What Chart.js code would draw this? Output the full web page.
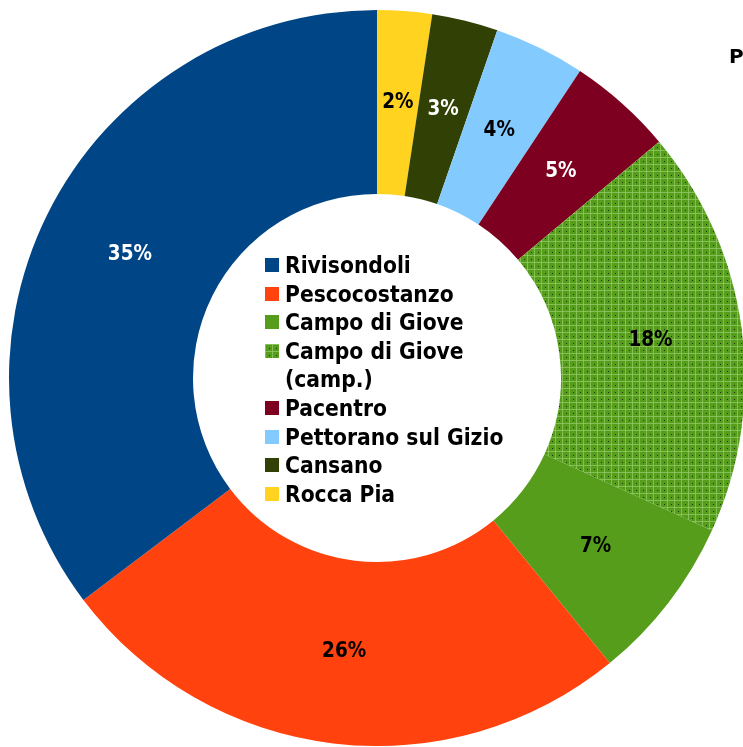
<!DOCTYPE html>
<html>
<head>
<meta charset="utf-8">
<script src="https://cdn.jsdelivr.net/npm/chart.js@4"></script>
<style>
  html, body { margin: 0; padding: 0; background: #fff; overflow: hidden; width: 743px; height: 747px; }
  #wrap { position: absolute; left: 9px; top: 10px; width: 736px; height: 736px; }
  #legenda { position: absolute; left: 265px; top: 251px; font-family: "DejaVu Sans Condensed", "DejaVu Sans", sans-serif; font-weight: bold; font-size: 22.6px; line-height: 28.6px; color: #000; }
  .voce { display: flex; align-items: flex-start; }
  .quadro { width: 14px; height: 14px; margin-top: 7px; margin-right: 6px; flex: none; }
  .testo { width: 225px; }
  #titolo { position: absolute; left: 729px; top: 44px; font: bold 20px "DejaVu Sans", sans-serif; color: #000; }
</style>
</head>
<body>
<div id="wrap"><canvas id="grafico"></canvas></div>
<div id="legenda"></div>
<div id="titolo">P</div>
<script>
// dati (ordine della legenda)
const comuni = ["Rivisondoli", "Pescocostanzo", "Campo di Giove", "Campo di Giove (camp.)", "Pacentro", "Pettorano sul Gizio", "Cansano", "Rocca Pia"];
const quote = [35.3, 25.6, 7.3, 17.9, 4.6, 4.0, 2.9, 2.4];
const colori = ["#004586", "#ff420e", "#579d1c", "#579d1c", "#7e0021", "#83caff", "#314004", "#ffd320"];
const coloriEtichette = ["#fff", "#000", "#000", "#000", "#fff", "#000", "#fff", "#000"];
const tratteggiato = [false, false, false, true, false, false, false, false];

document.addEventListener("DOMContentLoaded", () => {
  // motivo a griglia con puntini per "camp."
  const pc = document.createElement("canvas");
  pc.width = 7; pc.height = 7;
  const p = pc.getContext("2d");
  p.fillStyle = "#579d1c";
  p.fillRect(0, 0, 7, 7);
  p.fillStyle = "rgba(150, 205, 110, 0.7)";
  p.fillRect(0, 0, 7, 1);
  p.fillRect(0, 0, 1, 7);
  p.fillStyle = "#1c3306";
  p.fillRect(4, 4, 1, 1);
  const motivo = document.getElementById("grafico").getContext("2d").createPattern(pc, "repeat");

  const riempimenti = colori.map((c, i) => tratteggiato[i] ? motivo : c);
  const totale = quote.reduce((a, b) => a + b, 0);

  // il grafico originale gira in senso antiorario: invertiamo l'ordine
  const rev = a => a.slice().reverse();

  const etichette = {
    id: "etichette",
    afterDatasetsDraw(chart) {
      const ctx = chart.ctx;
      const meta = chart.getDatasetMeta(0);
      const valori = chart.data.datasets[0].data;
      const col = rev(coloriEtichette);
      ctx.save();
      ctx.font = "bold 20.5px 'DejaVu Sans Condensed', 'DejaVu Sans'";
      ctx.textAlign = "center";
      ctx.textBaseline = "middle";
      meta.data.forEach((arc, i) => {
        const pos = arc.tooltipPosition();
        ctx.fillStyle = col[i];
        ctx.fillText(Math.round(valori[i] / totale * 100) + "%", pos.x, pos.y);
      });
      ctx.restore();
    }
  };

  new Chart(document.getElementById("grafico"), {
    type: "doughnut",
    data: {
      labels: rev(comuni),
      datasets: [{
        data: rev(quote),
        backgroundColor: rev(riempimenti),
        borderWidth: 0
      }]
    },
    options: {
      responsive: true,
      maintainAspectRatio: false,
      animation: false,
      cutout: "50%",
      layout: { padding: 0 },
      plugins: {
        legend: { display: false },
        tooltip: { enabled: false }
      }
    },
    plugins: [etichette]
  });

  // legenda al centro
  const legenda = document.getElementById("legenda");
  comuni.forEach((nome, i) => {
    const voce = document.createElement("div");
    voce.className = "voce";
    const q = document.createElement("div");
    q.className = "quadro";
    q.style.background = tratteggiato[i] ? "url(" + pc.toDataURL() + ")" : colori[i];
    const t = document.createElement("div");
    t.className = "testo";
    t.textContent = nome;
    voce.appendChild(q);
    voce.appendChild(t);
    legenda.appendChild(voce);
  });
});
</script>
</body>
</html>
